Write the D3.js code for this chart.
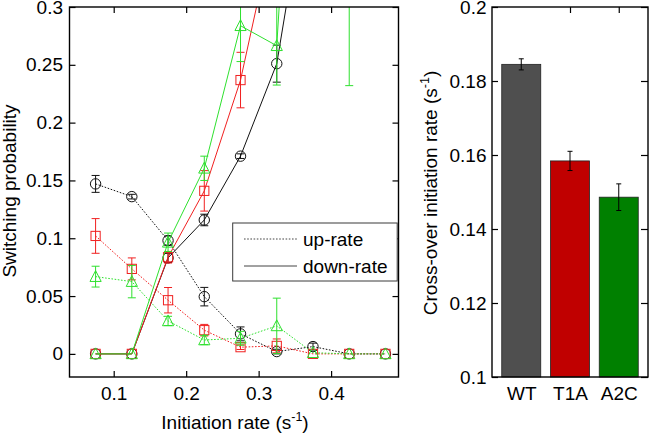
<!DOCTYPE html>
<html><head><meta charset="utf-8">
<script src="https://cdn.jsdelivr.net/npm/d3@7"></script>
<style>
html,body{margin:0;padding:0;background:#fff;}
svg text{font-family:"Liberation Sans",Arial,sans-serif;fill:#000;}
</style></head>
<body><svg id="c" width="649" height="433"></svg>
<script>
// ---- data ----
const initRate = [0.075, 0.125, 0.175, 0.225, 0.275, 0.325, 0.375, 0.425, 0.475];
const wtUp      = [0.147, 0.136, 0.098, 0.0495, 0.0173, 0.002, 0.0063, 0, 0];
const wtUpErr   = [0.0073, 0.002, 0.004, 0.008, 0.006, 0.002, 0.003, 0, 0];
const wtDown    = [0, 0, 0.083, 0.1158, 0.171, 0.251, 0.44, 0.55, 0.62];
const wtDownErr = [0, 0, 0.004, 0.005, 0.002, 0.016, 0.02, 0.03, 0.03];
const t1aUp      = [0.102, 0.0735, 0.0464, 0.0205, 0.0058, 0.0069, 0, 0, 0];
const t1aUpErr   = [0.015, 0.0095, 0.011, 0.005, 0.002, 0.006, 0, 0, 0];
const t1aDown    = [0, 0, 0.0836, 0.141, 0.2368, 0.38, 0.5, 0.6, 0.65];
const t1aDownErr = [0, 0, 0.005, 0.0175, 0.024, 0.03, 0.03, 0.03, 0.03];
const a2cUp      = [0.0668, 0.0625, 0.0285, 0.012, 0.0135, 0.0242, 0.001, 0, 0];
const a2cUpErr   = [0.009, 0.014, 0.004, 0.004, 0.006, 0.024, 0, 0, 0];
const a2cDown    = [0, 0, 0.0965, 0.1605, 0.2838, 0.2665, 0.77, 0.6, 0.7];
const a2cDownErr = [0, 0, 0.008, 0.0105, 0.031, 0.034, 0.1, 0.368, 0.05];
const xTicks = [0.1, 0.2, 0.3, 0.4];
const yTicks = [0, 0.05, 0.1, 0.15, 0.2, 0.25, 0.3];
const legendLabels = ["up-rate", "down-rate"];

const barCats = ["WT", "T1A", "A2C"];
const barVals = [0.1845, 0.1584, 0.1486];
const barErr  = [0.0015, 0.0026, 0.0036];
const barTicks = [0.1, 0.12, 0.14, 0.16, 0.18, 0.2];

// ---- styles ----
const cBlack = "#111", cRed = "#f02020", cGreen = "#2ee02e";
const barColors = ["#4f4f4f", "#c00000", "#008000"];
const FS = 19;

const svg = d3.select("#c");

// ================= left panel =================
const L = {x0: 69.5, x1: 398.5, y0: 7, y1: 377};
const x = d3.scaleLinear().domain([0.039, 0.493]).range([L.x0, L.x1]);
const y = d3.scaleLinear().domain([-0.02, 0.3]).range([L.y1, L.y0]);

svg.append("clipPath").attr("id", "clipL").append("rect")
  .attr("x", L.x0).attr("y", L.y0).attr("width", L.x1 - L.x0).attr("height", L.y1 - L.y0);

const plot = svg.append("g").attr("clip-path", "url(#clipL)");

const series = [
  {v: wtUp, e: wtUpErr, c: cBlack, dash: "1.6,1.6", m: "circle"},
  {v: t1aUp, e: t1aUpErr, c: cRed, dash: "1.6,1.6", m: "square"},
  {v: a2cUp, e: a2cUpErr, c: cGreen, dash: "1.6,1.6", m: "triangle"},
  {v: wtDown, e: wtDownErr, c: cBlack, dash: null, m: "circle"},
  {v: t1aDown, e: t1aDownErr, c: cRed, dash: null, m: "square"},
  {v: a2cDown, e: a2cDownErr, c: cGreen, dash: null, m: "triangle"}
];

const line = d3.line().x(d => x(d.x)).y(d => y(d.y));

series.forEach(s => {
  const pts = initRate.map((xv, i) => ({x: xv, y: s.v[i], e: s.e[i]}));
  const g = plot.append("g");
  pts.filter(p => p.e > 0).forEach(p => {
    const xc = x(p.x), yt = y(p.y + p.e), yb = y(p.y - p.e);
    g.append("line").attr("x1", xc).attr("x2", xc).attr("y1", yt).attr("y2", yb)
      .attr("stroke", s.c).attr("stroke-width", 1);
    [yt, yb].forEach(yy => g.append("line").attr("x1", xc - 4).attr("x2", xc + 4)
      .attr("y1", yy).attr("y2", yy).attr("stroke", s.c).attr("stroke-width", 1));
  });
  g.append("path").datum(pts).attr("d", line).attr("fill", "none")
    .attr("stroke", s.c).attr("stroke-width", 1)
    .attr("stroke-dasharray", s.dash);
  pts.forEach(p => {
    const xc = x(p.x), yc = y(p.y);
    if (s.m === "circle") {
      g.append("circle").attr("cx", xc).attr("cy", yc).attr("r", 5.2)
        .attr("fill", "none").attr("stroke", s.c).attr("stroke-width", 1);
    } else if (s.m === "square") {
      g.append("rect").attr("x", xc - 4.6).attr("y", yc - 4.6).attr("width", 9.2).attr("height", 9.2)
        .attr("fill", "none").attr("stroke", s.c).attr("stroke-width", 1);
    } else {
      g.append("path").attr("d", `M${xc},${yc - 6}L${xc + 5.6},${yc + 4.8}L${xc - 5.6},${yc + 4.8}Z`)
        .attr("fill", "none").attr("stroke", s.c).attr("stroke-width", 1);
    }
  });
});

function styleAxis(g) {
  g.select(".domain").remove();
  g.selectAll(".tick line").attr("stroke", "#000").attr("stroke-width", 1.2);
  g.selectAll(".tick text").attr("font-size", FS);
}
const fmt = d => String(+d.toFixed(3));
svg.append("g").attr("transform", `translate(0,${L.y1})`)
  .call(d3.axisBottom(x).tickValues(xTicks).tickFormat(fmt).tickSizeInner(-6).tickSizeOuter(0).tickPadding(10))
  .call(styleAxis);
svg.append("g").attr("transform", `translate(0,${L.y0})`)
  .call(d3.axisTop(x).tickValues(xTicks).tickFormat("").tickSizeInner(-6).tickSizeOuter(0))
  .call(styleAxis);
svg.append("g").attr("transform", `translate(${L.x0},0)`)
  .call(d3.axisLeft(y).tickValues(yTicks).tickFormat(fmt).tickSizeInner(-6).tickSizeOuter(0).tickPadding(6.5))
  .call(styleAxis);
svg.append("g").attr("transform", `translate(${L.x1},0)`)
  .call(d3.axisRight(y).tickValues(yTicks).tickFormat("").tickSizeInner(-6).tickSizeOuter(0))
  .call(styleAxis);
svg.append("rect").attr("x", L.x0).attr("y", L.y0).attr("width", L.x1 - L.x0).attr("height", L.y1 - L.y0)
  .attr("fill", "none").attr("stroke", "#000").attr("stroke-width", 1.4);

const xt = svg.append("text").attr("x", (L.x0 + L.x1) / 2 + 1).attr("y", 429).attr("text-anchor", "middle")
  .attr("font-size", FS);
xt.append("tspan").text("Initiation rate (s");
xt.append("tspan").attr("font-size", 12.5).attr("dy", -8).text("-1");
xt.append("tspan").attr("dy", 8).text(")");

svg.append("text").attr("transform", `translate(16,191) rotate(-90)`).attr("text-anchor", "middle")
  .attr("font-size", FS).text("Switching probability");

const lg = svg.append("g");
lg.append("rect").attr("x", 232.7).attr("y", 223).attr("width", 164.5).attr("height", 58)
  .attr("fill", "#fff").attr("stroke", "#3a3a3a").attr("stroke-width", 1);
legendLabels.forEach((lab, i) => {
  const yy = 239 + i * 27;
  lg.append("line").attr("x1", 244).attr("x2", 297).attr("y1", yy).attr("y2", yy)
    .attr("stroke", "#444").attr("stroke-width", 1)
    .attr("stroke-dasharray", i === 0 ? "1.6,1.6" : null);
  lg.append("text").attr("x", 303).attr("y", yy).attr("dy", "0.35em").attr("font-size", FS).text(lab);
});

// ================= right panel =================
const R = {x0: 492, x1: 648, y0: 7, y1: 377};
const xb = d3.scaleLinear().domain([0.4, 3.6]).range([R.x0, R.x1]);
const yb = d3.scaleLinear().domain([0.1, 0.2]).range([R.y1, R.y0]);
const bw = 0.8;

barCats.forEach((cat, i) => {
  const c = i + 1;
  svg.append("rect").attr("x", xb(c - bw / 2)).attr("y", yb(barVals[i]))
    .attr("width", xb(c + bw / 2) - xb(c - bw / 2)).attr("height", yb(0.1) - yb(barVals[i]))
    .attr("fill", barColors[i]).attr("stroke", "#222").attr("stroke-width", 0.8);
  const xc = xb(c), t = yb(barVals[i] + barErr[i]), b = yb(barVals[i] - barErr[i]);
  svg.append("line").attr("x1", xc).attr("x2", xc).attr("y1", t).attr("y2", b).attr("stroke", "#000").attr("stroke-width", 1);
  [t, b].forEach(yy => svg.append("line").attr("x1", xc - 2.5).attr("x2", xc + 2.5).attr("y1", yy).attr("y2", yy)
    .attr("stroke", "#000").attr("stroke-width", 1));
});

svg.append("g").attr("transform", `translate(${R.x0},0)`)
  .call(d3.axisLeft(yb).tickValues(barTicks).tickFormat(fmt).tickSizeInner(-6).tickSizeOuter(0).tickPadding(5.5))
  .call(styleAxis);
svg.append("g").attr("transform", `translate(${R.x1},0)`)
  .call(d3.axisRight(yb).tickValues(barTicks).tickFormat("").tickSizeInner(-7).tickSizeOuter(0))
  .call(styleAxis);
svg.append("g").attr("transform", `translate(0,${R.y0})`)
  .call(d3.axisTop(xb).tickValues([2, 3]).tickFormat("").tickSizeInner(-6).tickSizeOuter(0))
  .call(styleAxis);
svg.append("g").attr("transform", `translate(0,${R.y1})`)
  .call(d3.axisBottom(xb).tickValues([1, 2, 3]).tickFormat((d, i) => barCats[i]).tickSize(0).tickPadding(10))
  .call(styleAxis);
svg.append("rect").attr("x", R.x0).attr("y", R.y0).attr("width", R.x1 - R.x0).attr("height", R.y1 - R.y0)
  .attr("fill", "none").attr("stroke", "#000").attr("stroke-width", 1.4);

const yt2 = svg.append("text").attr("transform", `translate(437,193) rotate(-90)`).attr("text-anchor", "middle")
  .attr("font-size", FS);
yt2.append("tspan").text("Cross-over initiation rate (s");
yt2.append("tspan").attr("font-size", 12.5).attr("dy", -8).text("-1");
yt2.append("tspan").attr("dy", 8).text(")");
</script></body></html>
